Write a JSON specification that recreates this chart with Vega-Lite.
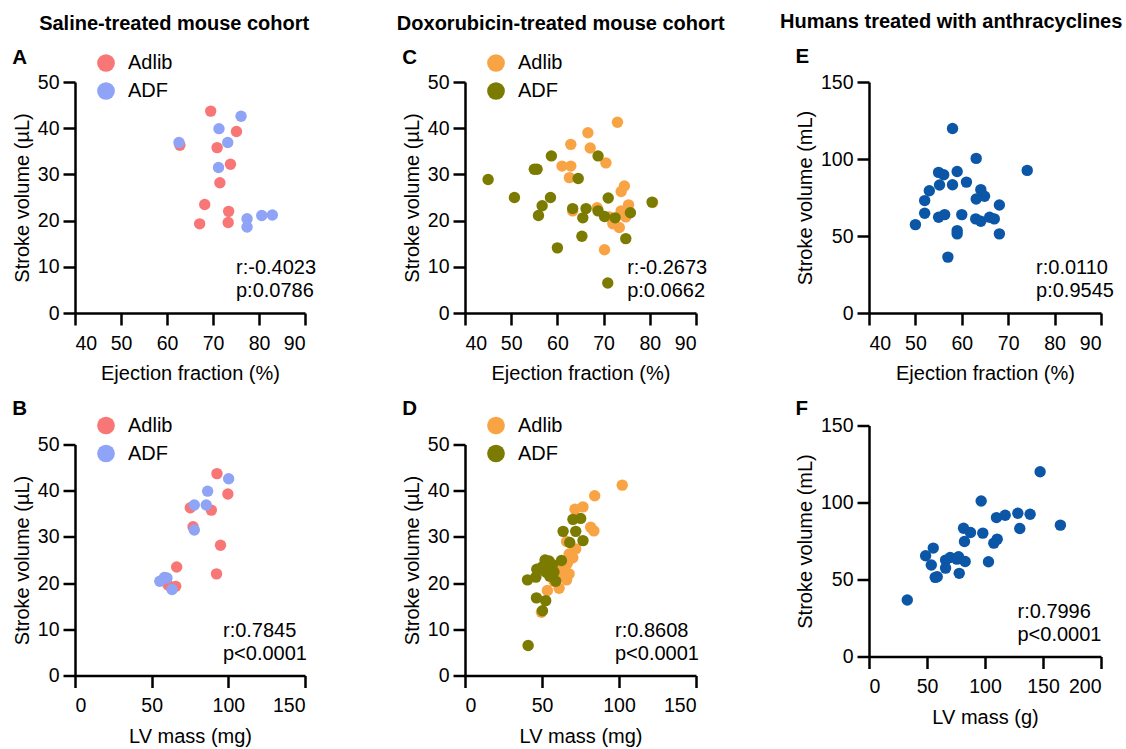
{
  "$schema": "https://vega.github.io/schema/vega-lite/v6.json",
  "padding": {"left": 12, "top": 11, "right": 0, "bottom": 5},
  "background": "white",
  "config": {
    "font": "Liberation Sans",
    "view": {"stroke": null},
    "axis": {"domainColor": "black", "domainWidth": 2.5, "tickColor": "black", "tickWidth": 2.5, "tickSize": 12, "labelFontSize": 19.5, "labelColor": "black", "titleFontSize": 20, "titleFontWeight": "normal", "titleColor": "black", "grid": false, "labelPadding": 4, "labelFont": "Liberation Sans", "titleFont": "Liberation Sans"},
    "axisX": {"titlePadding": 11, "labelPadding": 9},
    "axisY": {"titlePadding": 5},
    "legend": {"orient": "none", "legendX": 21, "legendY": -29, "symbolSize": 314, "symbolType": "circle", "symbolStrokeWidth": 0, "symbolOpacity": 1, "labelFontSize": 20, "labelColor": "black", "labelFont": "Liberation Sans", "rowPadding": 8, "labelOffset": 12, "padding": 0, "title": null},
    "title": {"font": "Liberation Sans", "fontWeight": "bold", "color": "black"}
  },
  "datasets": {
    "saline": [
      {"group": "Adlib", "ef": 69.5, "lvm": 92.6, "sv": 43.7},
      {"group": "Adlib", "ef": 75.1, "lvm": 99.7, "sv": 39.3},
      {"group": "Adlib", "ef": 70.9, "lvm": 88.9, "sv": 35.8},
      {"group": "Adlib", "ef": 62.8, "lvm": 75.2, "sv": 36.3},
      {"group": "Adlib", "ef": 73.8, "lvm": 77.0, "sv": 32.2},
      {"group": "Adlib", "ef": 71.5, "lvm": 94.9, "sv": 28.2},
      {"group": "Adlib", "ef": 68.2, "lvm": 66.3, "sv": 23.5},
      {"group": "Adlib", "ef": 73.4, "lvm": 92.3, "sv": 22.0},
      {"group": "Adlib", "ef": 67.1, "lvm": 65.7, "sv": 19.3},
      {"group": "Adlib", "ef": 73.3, "lvm": 60.7, "sv": 19.6},
      {"group": "ADF", "ef": 76.1, "lvm": 100.2, "sv": 42.6},
      {"group": "ADF", "ef": 71.3, "lvm": 86.5, "sv": 39.9},
      {"group": "ADF", "ef": 62.6, "lvm": 77.8, "sv": 36.9},
      {"group": "ADF", "ef": 73.2, "lvm": 85.6, "sv": 36.9},
      {"group": "ADF", "ef": 71.2, "lvm": 77.8, "sv": 31.5},
      {"group": "ADF", "ef": 77.4, "lvm": 55.3, "sv": 20.4},
      {"group": "ADF", "ef": 77.4, "lvm": 63.3, "sv": 18.6},
      {"group": "ADF", "ef": 80.6, "lvm": 60.0, "sv": 21.1},
      {"group": "ADF", "ef": 82.9, "lvm": 58.3, "sv": 21.2}
    ],
    "doxEF": [
      {"group": "Adlib", "ef": 73.0, "sv": 41.3},
      {"group": "Adlib", "ef": 66.6, "sv": 39.0},
      {"group": "Adlib", "ef": 62.9, "sv": 36.5},
      {"group": "Adlib", "ef": 67.1, "sv": 35.7},
      {"group": "Adlib", "ef": 70.5, "sv": 32.5},
      {"group": "Adlib", "ef": 61.0, "sv": 31.8},
      {"group": "Adlib", "ef": 62.9, "sv": 31.8},
      {"group": "Adlib", "ef": 62.6, "sv": 29.3},
      {"group": "Adlib", "ef": 74.5, "sv": 27.5},
      {"group": "Adlib", "ef": 73.8, "sv": 26.3},
      {"group": "Adlib", "ef": 75.4, "sv": 23.4},
      {"group": "Adlib", "ef": 80.6, "sv": 23.9},
      {"group": "Adlib", "ef": 68.6, "sv": 22.8},
      {"group": "Adlib", "ef": 63.3, "sv": 22.1},
      {"group": "Adlib", "ef": 73.8, "sv": 22.1},
      {"group": "Adlib", "ef": 74.8, "sv": 20.8},
      {"group": "Adlib", "ef": 71.2, "sv": 20.8},
      {"group": "Adlib", "ef": 72.0, "sv": 19.3},
      {"group": "Adlib", "ef": 73.4, "sv": 18.5},
      {"group": "Adlib", "ef": 70.2, "sv": 13.7},
      {"group": "ADF", "ef": 45.0, "sv": 28.9},
      {"group": "ADF", "ef": 50.7, "sv": 25.0},
      {"group": "ADF", "ef": 55.0, "sv": 31.1},
      {"group": "ADF", "ef": 55.6, "sv": 31.1},
      {"group": "ADF", "ef": 58.7, "sv": 34.0},
      {"group": "ADF", "ef": 56.7, "sv": 23.2},
      {"group": "ADF", "ef": 55.9, "sv": 21.1},
      {"group": "ADF", "ef": 58.5, "sv": 25.0},
      {"group": "ADF", "ef": 60.0, "sv": 14.1},
      {"group": "ADF", "ef": 64.5, "sv": 29.1},
      {"group": "ADF", "ef": 63.3, "sv": 22.6},
      {"group": "ADF", "ef": 66.2, "sv": 22.6},
      {"group": "ADF", "ef": 65.5, "sv": 20.6},
      {"group": "ADF", "ef": 65.3, "sv": 16.6},
      {"group": "ADF", "ef": 68.8, "sv": 34.0},
      {"group": "ADF", "ef": 68.8, "sv": 22.1},
      {"group": "ADF", "ef": 70.2, "sv": 20.9},
      {"group": "ADF", "ef": 71.0, "sv": 24.9},
      {"group": "ADF", "ef": 72.5, "sv": 20.6},
      {"group": "ADF", "ef": 75.8, "sv": 21.7},
      {"group": "ADF", "ef": 74.8, "sv": 16.1},
      {"group": "ADF", "ef": 80.5, "sv": 24.0},
      {"group": "ADF", "ef": 70.9, "sv": 6.5}
    ],
    "doxLVM": [
      {"group": "Adlib", "lvm": 102.1, "sv": 41.2},
      {"group": "Adlib", "lvm": 84.2, "sv": 38.9},
      {"group": "Adlib", "lvm": 76.6, "sv": 36.5},
      {"group": "Adlib", "lvm": 71.4, "sv": 36.0},
      {"group": "Adlib", "lvm": 81.6, "sv": 32.1},
      {"group": "Adlib", "lvm": 83.7, "sv": 31.3},
      {"group": "Adlib", "lvm": 66.0, "sv": 29.0},
      {"group": "Adlib", "lvm": 71.9, "sv": 27.4},
      {"group": "Adlib", "lvm": 67.6, "sv": 26.3},
      {"group": "Adlib", "lvm": 66.5, "sv": 24.3},
      {"group": "Adlib", "lvm": 65.4, "sv": 22.5},
      {"group": "Adlib", "lvm": 67.6, "sv": 22.0},
      {"group": "Adlib", "lvm": 66.0, "sv": 20.7},
      {"group": "Adlib", "lvm": 61.1, "sv": 18.9},
      {"group": "Adlib", "lvm": 53.5, "sv": 18.4},
      {"group": "Adlib", "lvm": 49.6, "sv": 13.7},
      {"group": "Adlib", "lvm": 57.8, "sv": 20.4},
      {"group": "Adlib", "lvm": 63.2, "sv": 23.3},
      {"group": "Adlib", "lvm": 70.0, "sv": 25.5},
      {"group": "Adlib", "lvm": 60.5, "sv": 21.5},
      {"group": "ADF", "lvm": 41.0, "sv": 6.5},
      {"group": "ADF", "lvm": 50.3, "sv": 14.0},
      {"group": "ADF", "lvm": 52.4, "sv": 16.2},
      {"group": "ADF", "lvm": 46.4, "sv": 16.8},
      {"group": "ADF", "lvm": 40.6, "sv": 20.7},
      {"group": "ADF", "lvm": 46.0, "sv": 21.3},
      {"group": "ADF", "lvm": 46.6, "sv": 23.0},
      {"group": "ADF", "lvm": 52.4, "sv": 22.4},
      {"group": "ADF", "lvm": 54.6, "sv": 24.8},
      {"group": "ADF", "lvm": 56.8, "sv": 24.0},
      {"group": "ADF", "lvm": 58.9, "sv": 20.4},
      {"group": "ADF", "lvm": 62.6, "sv": 24.9},
      {"group": "ADF", "lvm": 57.8, "sv": 22.4},
      {"group": "ADF", "lvm": 63.7, "sv": 31.2},
      {"group": "ADF", "lvm": 68.0, "sv": 28.8},
      {"group": "ADF", "lvm": 71.9, "sv": 31.2},
      {"group": "ADF", "lvm": 76.6, "sv": 29.2},
      {"group": "ADF", "lvm": 70.1, "sv": 33.8},
      {"group": "ADF", "lvm": 75.1, "sv": 34.0},
      {"group": "ADF", "lvm": 54.6, "sv": 22.5},
      {"group": "ADF", "lvm": 50.0, "sv": 23.5},
      {"group": "ADF", "lvm": 52.0, "sv": 25.0},
      {"group": "ADF", "lvm": 55.0, "sv": 21.5}
    ],
    "humanEF": [
      {"ef": 58.0, "sv": 119.8}, {"ef": 63.1, "sv": 100.4}, {"ef": 74.1, "sv": 92.6},
      {"ef": 55.0, "sv": 91.3}, {"ef": 56.1, "sv": 89.8}, {"ef": 59.0, "sv": 91.9},
      {"ef": 61.0, "sv": 85.0}, {"ef": 55.2, "sv": 83.1}, {"ef": 58.0, "sv": 83.3},
      {"ef": 53.0, "sv": 79.4}, {"ef": 52.0, "sv": 73.0}, {"ef": 64.1, "sv": 80.1},
      {"ef": 64.9, "sv": 75.8}, {"ef": 63.1, "sv": 74.0}, {"ef": 68.1, "sv": 70.1},
      {"ef": 52.0, "sv": 64.8}, {"ef": 55.0, "sv": 62.2}, {"ef": 56.3, "sv": 63.9},
      {"ef": 60.0, "sv": 63.9}, {"ef": 63.0, "sv": 61.1}, {"ef": 64.1, "sv": 59.6},
      {"ef": 66.0, "sv": 62.2}, {"ef": 67.0, "sv": 61.1}, {"ef": 50.0, "sv": 57.4},
      {"ef": 59.0, "sv": 53.5}, {"ef": 59.0, "sv": 51.4}, {"ef": 68.1, "sv": 51.4},
      {"ef": 57.0, "sv": 36.3}
    ],
    "humanLVM": [
      {"lvm": 33.0, "sv": 36.7}, {"lvm": 48.8, "sv": 65.4}, {"lvm": 55.4, "sv": 70.4},
      {"lvm": 53.7, "sv": 59.4}, {"lvm": 57.1, "sv": 51.4}, {"lvm": 58.8, "sv": 51.8},
      {"lvm": 66.0, "sv": 57.4}, {"lvm": 66.0, "sv": 62.6}, {"lvm": 70.0, "sv": 64.3},
      {"lvm": 75.8, "sv": 63.2}, {"lvm": 77.2, "sv": 64.8}, {"lvm": 82.9, "sv": 61.7},
      {"lvm": 77.8, "sv": 54.0}, {"lvm": 81.5, "sv": 83.3}, {"lvm": 82.3, "sv": 74.7},
      {"lvm": 87.5, "sv": 80.5}, {"lvm": 96.7, "sv": 101.0}, {"lvm": 98.1, "sv": 80.1},
      {"lvm": 103.0, "sv": 61.5}, {"lvm": 107.6, "sv": 73.6}, {"lvm": 110.5, "sv": 76.2},
      {"lvm": 109.9, "sv": 90.2}, {"lvm": 117.4, "sv": 91.7}, {"lvm": 128.3, "sv": 93.0},
      {"lvm": 138.9, "sv": 92.4}, {"lvm": 130.0, "sv": 83.1}, {"lvm": 147.5, "sv": 120.0},
      {"lvm": 165.0, "sv": 85.3}
    ]
  },
  "spacing": 55,
  "resolve": {"scale": {"color": "independent"}},
  "hconcat": [
    {
      "spacing": 79,
      "resolve": {"scale": {"color": "independent"}},
      "hconcat": [
        {
          "title": {"text": "Saline-treated mouse cohort", "anchor": "middle", "frame": "bounds", "fontSize": 20, "offset": 14.5, "dx": 10},
          "spacing": 14.5,
          "resolve": {"scale": {"color": "independent"}},
          "vconcat": [
            {
              "title": {"text": "A", "anchor": "start", "frame": "bounds", "fontSize": 20.5, "offset": -15.5},
              "width": 230, "height": 231,
              "layer": [
                {
                  "data": {"name": "saline"},
                  "mark": {"type": "circle", "size": 130, "opacity": 1},
                  "encoding": {
                    "x": {"field": "ef", "type": "quantitative", "scale": {"domain": [40, 90], "nice": false, "zero": false}, "axis": {"values": [40, 50, 60, 70, 80, 90], "title": "Ejection fraction (%)"}},
                    "y": {"field": "sv", "type": "quantitative", "scale": {"domain": [0, 50], "nice": false}, "axis": {"values": [0, 10, 20, 30, 40, 50], "title": "Stroke volume (µL)"}},
                    "color": {"field": "group", "type": "nominal", "scale": {"domain": ["Adlib", "ADF"], "range": ["#F87676", "#8FA4F7"]}}
                  }
                },
                {
                  "data": {"values": [{}]},
                  "mark": {"type": "text", "align": "left", "baseline": "middle", "fontSize": 20, "lineHeight": 23, "color": "black"},
                  "encoding": {"x": {"datum": 75}, "y": {"datum": 9.7}, "text": {"value": ["r:-0.4023", "p:0.0786"]}}
                }
              ]
            },
            {
              "title": {"text": "B", "anchor": "start", "frame": "bounds", "fontSize": 20.5, "offset": -3.5},
              "width": 230, "height": 231,
              "layer": [
                {
                  "data": {"name": "saline"},
                  "mark": {"type": "circle", "size": 130, "opacity": 1},
                  "encoding": {
                    "x": {"field": "lvm", "type": "quantitative", "scale": {"domain": [0, 150], "nice": false}, "axis": {"values": [0, 50, 100, 150], "title": "LV mass (mg)"}},
                    "y": {"field": "sv", "type": "quantitative", "scale": {"domain": [0, 50], "nice": false}, "axis": {"values": [0, 10, 20, 30, 40, 50], "title": "Stroke volume (µL)"}},
                    "color": {"field": "group", "type": "nominal", "scale": {"domain": ["Adlib", "ADF"], "range": ["#F87676", "#8FA4F7"]}}
                  }
                },
                {
                  "data": {"values": [{}]},
                  "mark": {"type": "text", "align": "left", "baseline": "middle", "fontSize": 20, "lineHeight": 23, "color": "black"},
                  "encoding": {"x": {"datum": 96.5}, "y": {"datum": 9.7}, "text": {"value": ["r:0.7845", "p<0.0001"]}}
                }
              ]
            }
          ]
        },
        {
          "title": {"text": "Doxorubicin-treated mouse cohort", "anchor": "middle", "frame": "bounds", "fontSize": 20, "offset": 14.5, "dx": 6},
          "spacing": 14.5,
          "resolve": {"scale": {"color": "independent"}},
          "vconcat": [
            {
              "title": {"text": "C", "anchor": "start", "frame": "bounds", "fontSize": 20.5, "offset": -15.5},
              "width": 231, "height": 231,
              "layer": [
                {
                  "data": {"name": "doxEF"},
                  "mark": {"type": "circle", "size": 130, "opacity": 1},
                  "encoding": {
                    "x": {"field": "ef", "type": "quantitative", "scale": {"domain": [40, 90], "nice": false, "zero": false}, "axis": {"values": [40, 50, 60, 70, 80, 90], "title": "Ejection fraction (%)"}},
                    "y": {"field": "sv", "type": "quantitative", "scale": {"domain": [0, 50], "nice": false}, "axis": {"values": [0, 10, 20, 30, 40, 50], "title": "Stroke volume (µL)"}},
                    "color": {"field": "group", "type": "nominal", "scale": {"domain": ["Adlib", "ADF"], "range": ["#F9A444", "#7B7B02"]}}
                  }
                },
                {
                  "data": {"values": [{}]},
                  "mark": {"type": "text", "align": "left", "baseline": "middle", "fontSize": 20, "lineHeight": 23, "color": "black"},
                  "encoding": {"x": {"datum": 75.1}, "y": {"datum": 9.7}, "text": {"value": ["r:-0.2673", "p:0.0662"]}}
                }
              ]
            },
            {
              "title": {"text": "D", "anchor": "start", "frame": "bounds", "fontSize": 20.5, "offset": -3.5},
              "width": 231, "height": 231,
              "layer": [
                {
                  "data": {"name": "doxLVM"},
                  "mark": {"type": "circle", "size": 130, "opacity": 1},
                  "encoding": {
                    "x": {"field": "lvm", "type": "quantitative", "scale": {"domain": [0, 150], "nice": false}, "axis": {"values": [0, 50, 100, 150], "title": "LV mass (mg)"}},
                    "y": {"field": "sv", "type": "quantitative", "scale": {"domain": [0, 50], "nice": false}, "axis": {"values": [0, 10, 20, 30, 40, 50], "title": "Stroke volume (µL)"}},
                    "color": {"field": "group", "type": "nominal", "scale": {"domain": ["Adlib", "ADF"], "range": ["#F9A444", "#7B7B02"]}}
                  }
                },
                {
                  "data": {"values": [{}]},
                  "mark": {"type": "text", "align": "left", "baseline": "middle", "fontSize": 20, "lineHeight": 23, "color": "black"},
                  "encoding": {"x": {"datum": 97.4}, "y": {"datum": 9.7}, "text": {"value": ["r:0.8608", "p<0.0001"]}}
                }
              ]
            }
          ]
        }
      ]
    },
    {
      "title": {"text": "Humans treated with anthracyclines", "anchor": "middle", "frame": "bounds", "fontSize": 20, "offset": 15.5, "dx": -3.5},
      "spacing": 14.5,
      "vconcat": [
        {
          "title": {"text": "E", "anchor": "start", "frame": "bounds", "fontSize": 20.5, "offset": 4.5},
          "width": 232, "height": 231,
          "layer": [
            {
              "data": {"name": "humanEF"},
              "mark": {"type": "circle", "size": 130, "opacity": 1, "color": "#0B56A6"},
              "encoding": {
                "x": {"field": "ef", "type": "quantitative", "scale": {"domain": [40, 90], "nice": false, "zero": false}, "axis": {"values": [40, 50, 60, 70, 80, 90], "title": "Ejection fraction (%)"}},
                "y": {"field": "sv", "type": "quantitative", "scale": {"domain": [0, 150], "nice": false}, "axis": {"values": [0, 50, 100, 150], "title": "Stroke volume (mL)"}}
              }
            },
            {
              "data": {"values": [{}]},
              "mark": {"type": "text", "align": "left", "baseline": "middle", "fontSize": 20, "lineHeight": 23, "color": "black"},
              "encoding": {"x": {"datum": 76}, "y": {"datum": 29.2}, "text": {"value": ["r:0.0110", "p:0.9545"]}}
            }
          ]
        },
        {
          "title": {"text": "F", "anchor": "start", "frame": "bounds", "fontSize": 20.5, "offset": -3.5},
          "width": 232, "height": 231,
          "layer": [
            {
              "data": {"name": "humanLVM"},
              "mark": {"type": "circle", "size": 130, "opacity": 1, "color": "#0B56A6"},
              "encoding": {
                "x": {"field": "lvm", "type": "quantitative", "scale": {"domain": [0, 200], "nice": false}, "axis": {"values": [0, 50, 100, 150, 200], "title": "LV mass (g)"}},
                "y": {"field": "sv", "type": "quantitative", "scale": {"domain": [0, 150], "nice": false}, "axis": {"values": [0, 50, 100, 150], "title": "Stroke volume (mL)"}}
              }
            },
            {
              "data": {"values": [{}]},
              "mark": {"type": "text", "align": "left", "baseline": "middle", "fontSize": 20, "lineHeight": 23, "color": "black"},
              "encoding": {"x": {"datum": 128}, "y": {"datum": 29.2}, "text": {"value": ["r:0.7996", "p<0.0001"]}}
            }
          ]
        }
      ]
    }
  ]
}
